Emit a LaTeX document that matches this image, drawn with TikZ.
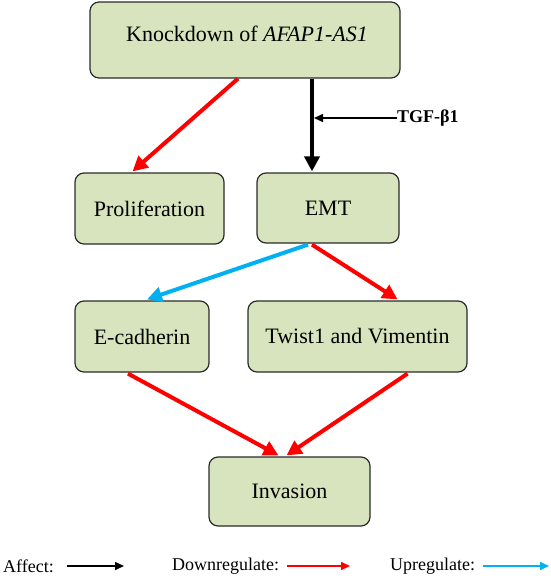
\documentclass[tikz,border=0pt]{standalone}
\usepackage{fontspec}
\setmainfont{Liberation Serif}
\usetikzlibrary{arrows.meta,calc}
\definecolor{boxfill}{HTML}{D7E4BD}
\definecolor{boxline}{HTML}{2B2B2B}
\definecolor{downred}{HTML}{FF0000}
\definecolor{upblue}{HTML}{00B0F0}
\begin{document}
\begin{tikzpicture}[x=1pt,y=-1pt,
  stepbox/.style={draw=boxline,fill=boxfill,line width=1.2pt,rounded corners=9pt,inner sep=0pt,font=\fontsize{22}{24}\selectfont},
  bigtip/.style={-{Triangle[length=15pt,width=15pt]},line width=4pt},
  smalltip/.style={-{Triangle[length=9pt,width=8pt]},line width=1.5pt},
  legtext/.style={font=\fontsize{18}{20}\selectfont,anchor=west,inner sep=0pt}]
\useasboundingbox (0,0) rectangle (550,576);
% boxes
\node[stepbox,minimum width=310pt,minimum height=76pt] (top) at (245,40) {};
\node[font=\fontsize{22}{24}\selectfont,inner sep=0pt] (topT) at (247,34) {Knockdown of \textit{AFAP1-AS1}};
\node[stepbox,minimum width=149pt,minimum height=71pt] (prol) at (149.5,208.5) {Proliferation};
\node[stepbox,minimum width=142pt,minimum height=70pt] (emt) at (328,208) {EMT};
\node[stepbox,minimum width=134pt,minimum height=71pt] (ecad) at (142,336.5) {E-cadherin};
\node[stepbox,minimum width=219pt,minimum height=71pt] (twist) at (357.5,336.5) {Twist1 and Vimentin};
\node[stepbox,minimum width=161pt,minimum height=69pt] (inv) at (289.5,491.5) {Invasion};
% TGF
\node[font=\bfseries\fontsize{18}{20}\selectfont,anchor=west,inner sep=0pt] (tgf) at (397,118) {TGF-β1};
\coordinate (tgfin) at (314,118);
% connectors
\draw[bigtip,draw=downred,fill=downred] ($(top.south)+(-7,0)$) -- ($(prol.north)+(-17,-1)$);
\draw[bigtip,draw=black] ($(top.south)+(67,0)$) -- ($(emt.north)+(-16,-1)$);
\draw[smalltip] (tgf.west) -- (tgfin);
\draw[bigtip,draw=upblue] ($(emt.south)+(-20,1)$) -- ($(ecad.north)+(5,-1)$);
\draw[bigtip,draw=downred] ($(emt.south)+(-16,1)$) -- ($(twist.north)+(40,-1)$);
\draw[bigtip,draw=downred] ($(ecad.south)+(-14,1)$) -- ($(inv.north)+(-11,-1)$);
\draw[bigtip,draw=downred] ($(twist.south)+(50,1)$) -- ($(inv.north)+(-3,-1)$);
% legend
\node[legtext] (l1) at (3,566) {Affect:};
\coordinate (a1) at (124,566);
\draw[smalltip] ($(l1.east)+(13,0)$) -- (a1);
\node[legtext] (l2) at (172,566) {Downregulate:};
\coordinate (a2) at (350,566);
\draw[smalltip,draw=downred] ($(l2.east)+(8,0)$) -- (a2);
\node[legtext] (l3) at (390,566) {Upregulate:};
\coordinate (a3) at (549,566);
\draw[smalltip,draw=upblue] ($(l3.east)+(8,0)$) -- (a3);
\end{tikzpicture}
\end{document}
